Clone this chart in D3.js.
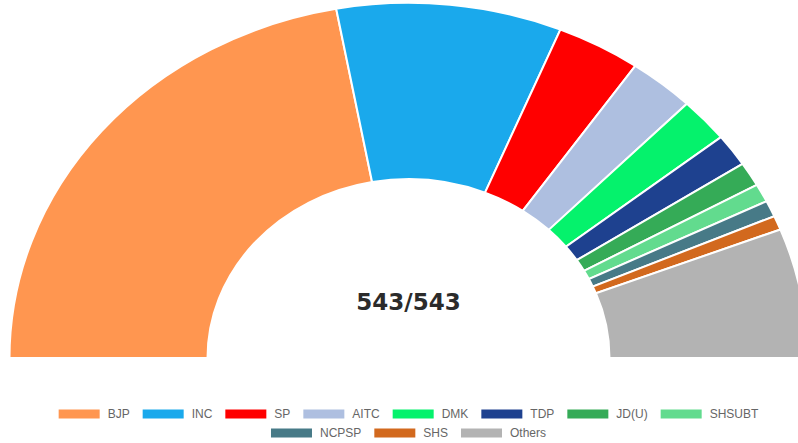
<!DOCTYPE html>
<html><head><meta charset="utf-8">
<script src="https://cdn.jsdelivr.net/npm/d3@7"></script>
<style>body{margin:0;background:#fff}svg{display:block}</style>
</head><body>
<svg id="c" width="798" height="443"></svg>
<script>
const parties = ["BJP","INC","SP","AITC","DMK","TDP","JD(U)","SHSUBT","NCPSP","SHS","Others"];
const seats   = [240, 99, 37, 29, 22, 16, 12, 9, 8, 7, 64];
const colors  = ["#FF9650","#1AA9EC","#FF0000","#AEBFE0","#05F26C","#1E418F","#35AB57","#62DB8E","#477A87","#D2691E","#B3B3B3"];
const centerLabel = "543/543";

const svg = d3.select("#c");
const cx = 408.5, cy = 358, rOut = 399, rIn = 201, sy = 0.89;

const pie = d3.pie().sort(null).startAngle(-Math.PI/2).endAngle(Math.PI/2);
const arc = d3.arc().innerRadius(rIn).outerRadius(rOut);
const g = svg.append("g").attr("transform", `translate(${cx},${cy}) scale(1,${sy})`);
g.selectAll("path").data(pie(seats)).join("path")
  .attr("d", arc)
  .attr("fill", (d,i) => colors[i])
  .attr("stroke", "#fff").attr("stroke-width", 2)
  .attr("vector-effect", "non-scaling-stroke");

svg.append("text").attr("x", cx).attr("y", 310)
  .attr("text-anchor", "middle")
  .attr("font-family", "'DejaVu Sans', sans-serif").attr("font-weight", 700)
  .attr("font-size", 23).attr("fill", "#2b2b2b")
  .text(centerLabel);

// legend
const rows = [[0,1,2,3,4,5,6,7],[8,9,10]];
const rowY = [414, 433];
const boxW = 41, boxH = 9, gap = 8, pad = 13;
const font = "12px 'Liberation Sans', Arial, sans-serif";
const ctx = document.createElement("canvas").getContext("2d");
ctx.font = font;
const lg = svg.append("g");
rows.forEach((row, ri) => {
  const widths = row.map(i => boxW + gap + ctx.measureText(parties[i]).width);
  const total = d3.sum(widths) + pad * (row.length - 1);
  let x = cx - total / 2;
  row.forEach((i, k) => {
    lg.append("rect").attr("x", x).attr("y", rowY[ri] - boxH/2)
      .attr("width", boxW).attr("height", boxH).attr("fill", colors[i]);
    lg.append("text").attr("x", x + boxW + gap).attr("y", rowY[ri] + 4)
      .attr("font-family", "'Liberation Sans', Arial, sans-serif").attr("font-size", 12)
      .attr("fill", "#666").text(parties[i]);
    x += widths[k] + pad;
  });
});
</script>
</body></html>
